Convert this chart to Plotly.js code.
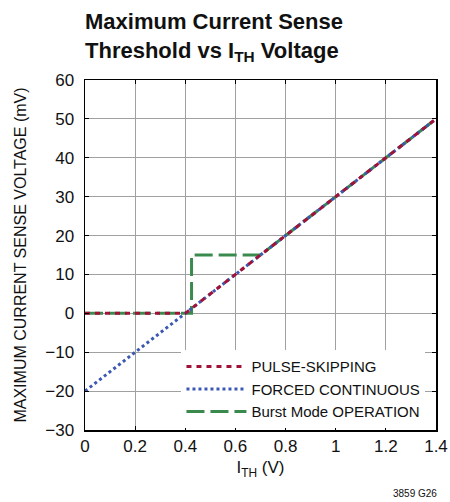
<!DOCTYPE html>
<html><head><meta charset="utf-8">
<script src="https://cdn.plot.ly/plotly-3.0.1.min.js"></script>
<style>html,body{margin:0;padding:0;background:#fff}#c{width:450px;height:502px}</style>
</head><body><div id="c"></div>
<script>
const pulseX = [0, 0.4, 1.4];
const pulseY = [0, 0, 50];
const forcedX = [0, 1.4];
const forcedY = [-20, 50];
const burstX = [0, 0.425, 0.425, 0.7, 1.4];
const burstY = [0, 0, 15, 15, 50];
const names = ["PULSE-SKIPPING", "FORCED CONTINUOUS", "Burst Mode OPERATION"];
const xTicks = [0, 0.2, 0.4, 0.6, 0.8, 1, 1.2, 1.4];
const yTicks = [-30, -20, -10, 0, 10, 20, 30, 40, 50, 60];

const FONT = '"Liberation Sans Narrow", "Liberation Sans", Arial, sans-serif';
const traces = [
  {x: burstX, y: burstY, name: names[2], mode: 'lines', line: {color: '#3a8a4e', width: 3, dash: '18px,6px'}},
  {x: forcedX, y: forcedY, name: names[1], mode: 'lines', line: {color: '#3b58b4', width: 3, dash: 'dot'}},
  {x: pulseX, y: pulseY, name: names[0], mode: 'lines', line: {color: '#a01238', width: 3, dash: '5px,5px'}}
];
const layout = {
  width: 450, height: 502,
  margin: {l: 85, r: 14, t: 80, b: 72},
  paper_bgcolor: '#fff', plot_bgcolor: '#fff',
  font: {family: FONT, size: 16, color: '#111'},
  showlegend: true,
  legend: {traceorder: 'reversed', x: 0.97, xanchor: 'right', y: 0.005, yanchor: 'bottom',
           bgcolor: '#fff', borderwidth: 0, font: {family: FONT, size: 15, color: '#111'},
           tracegroupgap: 0, itemwidth: 60},
  xaxis: {range: [0, 1.4], tickvals: xTicks, ticktext: xTicks.map(String),
          showgrid: true, gridcolor: '#a0a0a0', gridwidth: 1, zeroline: false,
          showline: true, linecolor: '#000', linewidth: 1.5, mirror: 'ticks',
          ticks: 'inside', ticklen: 4, tickcolor: '#000',
          tickfont: {size: 17}, title: {text: 'I<sub>TH</sub> (V)', font: {size: 17}, standoff: 6}},
  yaxis: {range: [-30, 60], tickvals: yTicks, ticktext: yTicks.map(v => v < 0 ? '\u2212' + Math.abs(v) : String(v)),
          showgrid: true, gridcolor: '#a0a0a0', gridwidth: 1, zeroline: false,
          showline: true, linecolor: '#000', linewidth: 1.5, mirror: 'ticks',
          ticks: 'inside', ticklen: 4, tickcolor: '#000', ticklabelstandoff: 6,
          tickfont: {size: 17}, title: {text: 'MAXIMUM CURRENT SENSE VOLTAGE (mV)', font: {size: 16}, standoff: 14}},
  annotations: [
    {text: '<b>Maximum Current Sense<br>Threshold vs I<sub>TH</sub> Voltage</b>', xref: 'paper', yref: 'paper',
     x: 0, y: 1, xanchor: 'left', yanchor: 'bottom', yshift: 13, xshift: -2, align: 'left', showarrow: false,
     font: {family: FONT, size: 22, color: '#111'}},
    {text: '3859 G26', xref: 'paper', yref: 'paper', x: 1, y: 0, xanchor: 'right', yanchor: 'top', yshift: -56, xshift: 3,
     showarrow: false, font: {family: FONT, size: 10, color: '#111'}}
  ]
};
Plotly.newPlot('c', traces, layout, {staticPlot: true});
</script></body></html>
